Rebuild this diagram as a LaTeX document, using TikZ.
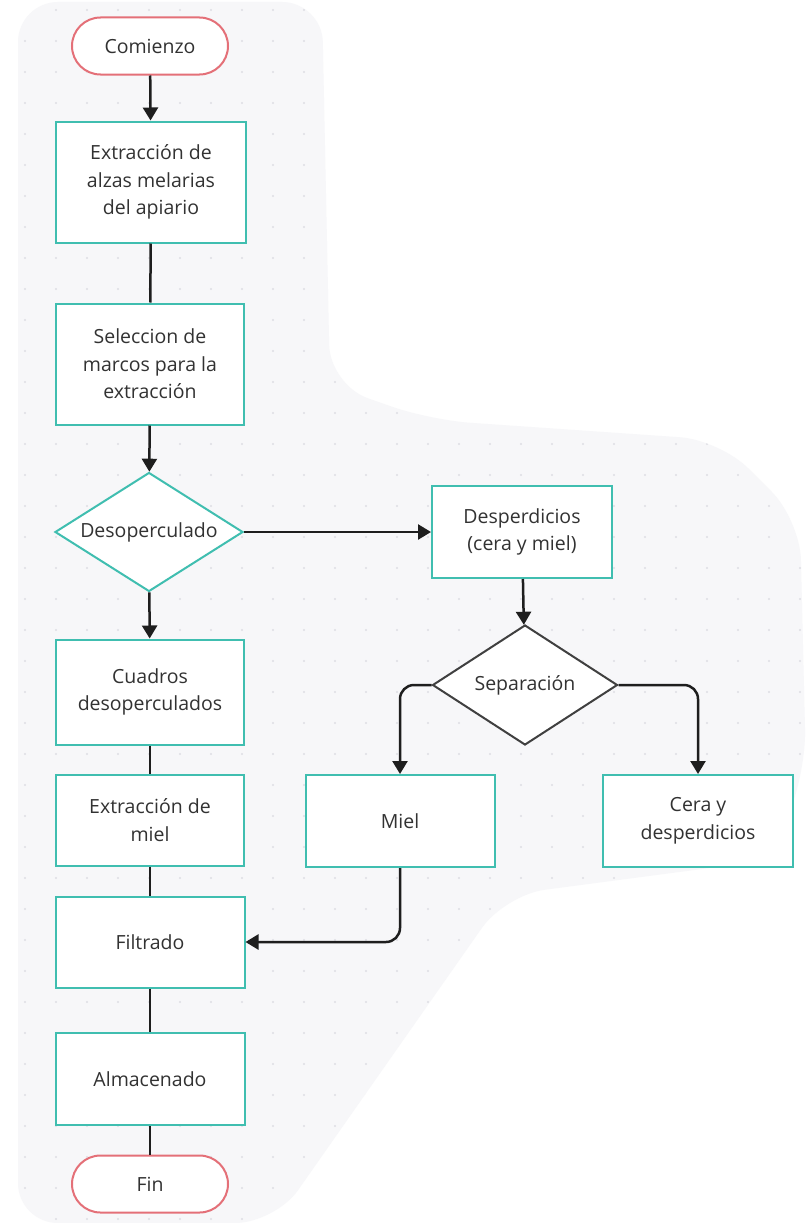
\documentclass[tikz,border=0pt]{standalone}
\usepackage{fontspec}
\setmainfont{Open Sans}
\usetikzlibrary{shapes.geometric,shapes.misc,arrows.meta}
\definecolor{teal1}{RGB}{64,190,176}
\definecolor{pink1}{RGB}{228,112,120}
\definecolor{bgg}{RGB}{247,247,249}
\definecolor{dotc}{RGB}{222,222,228}
\definecolor{txt}{RGB}{50,50,50}
\definecolor{ln}{RGB}{30,30,30}
\tikzset{
  base/.style={font=\fontsize{19.5}{27.5}\selectfont, text=txt, align=center, inner sep=0pt, fill=white},
  procbox/.style={base, draw=teal1, line width=2pt, rectangle},
  term/.style={base, draw=pink1, line width=2pt, rounded rectangle, minimum width=156pt, minimum height=57pt},
  decis/.style={base, diamond, line width=2pt},
  arr/.style={draw=ln, line width=2.5pt, -{Triangle[length=13pt,width=15pt]}},
  lin/.style={draw=ln, line width=2.5pt},
}
\begin{document}
\begin{tikzpicture}[x=1pt,y=-1pt]
\useasboundingbox (0,0) rectangle (806,1223);
\fill[white] (0,0) rectangle (806,1223);
% background blob
\path[fill=bgg, rounded corners=40pt] (18,2) -- (322,2) -- (330,385) -- (430,420) -- (720,440) -- (800,520) -- (806,770) -- (770,860) -- (505,895) -- (275,1223) -- (18,1223) -- cycle;
\begin{scope}
\clip[rounded corners=40pt] (18,2) -- (322,2) -- (330,385) -- (430,420) -- (720,440) -- (800,520) -- (806,770) -- (770,860) -- (505,895) -- (275,1223) -- (18,1223) -- cycle;
\foreach \i in {0,...,26} {\foreach \j in {0,...,40} {
  \fill[dotc] (25+31*\i, 10+31*\j) circle (1.2pt);
}}
\end{scope}
% nodes
\node[term] (start) at (150,46) {Comienzo};
\node[procbox, minimum width=190pt, minimum height=121pt] (b1) at (151,182) {Extracción de\\alzas melarias\\del apiario};
\node[procbox, minimum width=188pt, minimum height=121pt] (b2) at (150,364) {Seleccion de\\marcos para la\\extracción};
\node[decis, draw=teal1, minimum width=188pt, minimum height=119pt, aspect=1.58] (d1) at (149,532) {Desoperculado};
\node[procbox, minimum width=180pt, minimum height=92pt] (desp) at (522,532) {Desperdicios\\(cera y miel)};
\node[decis, draw=black!75, minimum width=185pt, minimum height=120pt, aspect=1.54] (d2) at (525,685) {Separación};
\node[procbox, minimum width=189pt, minimum height=92pt] (miel) at (400,821) {Miel};
\node[procbox, minimum width=190pt, minimum height=92pt] (cera) at (698,821) {Cera y\\desperdicios};
\node[procbox, minimum width=188pt, minimum height=105pt] (cuad) at (150,692) {Cuadros\\desoperculados};
\node[procbox, minimum width=188pt, minimum height=91pt] (extr) at (150,820) {Extracción de\\miel};
\node[procbox, minimum width=189pt, minimum height=91pt] (filt) at (150,942) {Filtrado};
\node[procbox, minimum width=189pt, minimum height=92pt] (alm) at (150,1079) {Almacenado};
\node[term] (fin) at (150,1184) {Fin};
% connectors
\draw[arr] (start) -- (b1);
\draw[lin] (b1) -- (b2);
\draw[arr] (b2) -- (d1);
\draw[arr] (d1) -- (desp);
\draw[arr] (d1) -- (cuad);
\draw[lin] (cuad) -- (extr);
\draw[lin] (extr) -- (filt);
\draw[lin] (filt) -- (alm);
\draw[lin] (alm) -- (fin);
\draw[arr] (desp) -- (d2);
\draw[arr, rounded corners=14pt] (d2.west) -| (miel.north);
\draw[arr, rounded corners=14pt] (d2.east) -| (cera.north);
\draw[arr, rounded corners=14pt] (miel.south) |- (filt.east);
\end{tikzpicture}
\end{document}
